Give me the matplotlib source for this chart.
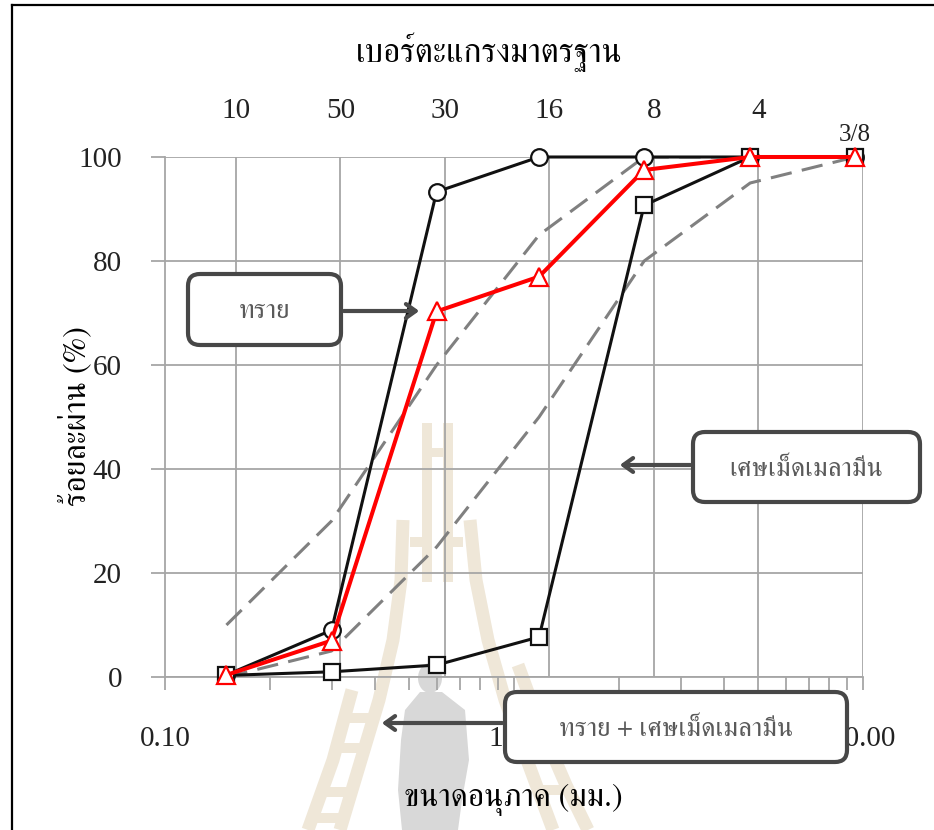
import numpy as np
import matplotlib
matplotlib.use("Agg")
import matplotlib.pyplot as plt
from matplotlib.patches import FancyBboxPatch, FancyArrowPatch, Polygon, Ellipse
from matplotlib.lines import Line2D
from matplotlib.transforms import Affine2D

# sieve sizes (mm) and percent passing
sieve_mm = [0.15, 0.3, 0.6, 1.18, 2.36, 4.75, 9.5]
sieve_no = ["10", "50", "30", "16", "8", "4", "3/8"]
sand = [0.4, 9.0, 93.3, 100, 100, 100, 100]
melamine = [0.3, 1.0, 2.3, 7.7, 90.7, 100, 100]
mixed = [0.4, 7.0, 70.3, 77.0, 97.5, 100, 100]
upper_limit = [10, 30, 60, 85, 100, 100, 100]
lower_limit = [0, 5, 25, 50, 80, 95, 100]

W, H = 934, 830
fig = plt.figure(figsize=(W / 100, H / 100), dpi=100)
# image-pixel coordinates, origin top-left
pix = Affine2D().scale(1 / W, -1 / H).translate(0, 1) + fig.transFigure

serif = ["Liberation Serif", "FreeSerif", "DejaVu Sans"]
thai = ["FreeSerif", "Liberation Serif", "DejaVu Sans"]


def rail(pts, width):
    # thick polyline turned into a polygon
    pts = np.asarray(pts, float)
    left, right = [], []
    for i in range(len(pts)):
        a = pts[max(i - 1, 0)]
        b = pts[min(i + 1, len(pts) - 1)]
        d = b - a
        n = np.array([-d[1], d[0]]) / np.hypot(*d) * width / 2
        left.append(pts[i] + n)
        right.append(pts[i] - n)
    return np.vstack([left, right[::-1]])


# faint logo in the background
beige = "#efe7d8"
wm = [
    [(422, 423), (432, 423), (432, 582), (422, 582)],
    [(443, 423), (453, 423), (453, 582), (443, 582)],
    [(432, 448), (443, 448), (443, 457), (432, 457)],
    [(410, 537), (422, 537), (422, 547), (410, 547)],
    [(453, 537), (463, 537), (463, 547), (453, 547)],
    rail([(403, 520), (401, 580), (393, 640), (379, 700), (361, 760), (340, 830)], 13),
    rail([(470, 520), (476, 580), (488, 640), (505, 700), (527, 760), (553, 830)], 13),
    rail([(352, 690), (333, 760), (308, 830)], 13),
    rail([(518, 665), (540, 725), (566, 785), (588, 830)], 13),
]
for y in (718, 748, 792, 818):
    xi = np.interp(y, [700, 760, 830], [379, 361, 340])
    xo = np.interp(y, [690, 760, 830], [352, 333, 308])
    wm.append([(xo, y - 5), (xi, y - 5), (xi, y + 5), (xo, y + 5)])
for y in (700, 742, 790):
    xi = np.interp(y, [700, 760, 830], [505, 527, 553])
    xo = np.interp(y, [665, 725, 785, 830], [518, 540, 566, 588])
    wm.append([(xi, y - 5), (xo, y - 5), (xo, y + 5), (xi, y + 5)])
for p in wm:
    fig.add_artist(Polygon(p, closed=True, transform=pix, fc=beige, ec="none", zorder=-2))
grey_wm = "#d8d8d8"
fig.add_artist(Ellipse((430, 678), 24, 30, transform=pix, fc=grey_wm, ec="none", zorder=-2))
fig.add_artist(Polygon([(420, 692), (442, 692), (465, 710), (469, 760), (462, 800),
                        (458, 830), (402, 830), (398, 790), (401, 740), (405, 710)],
                       closed=True, transform=pix, fc=grey_wm, ec="none", zorder=-2))

# page frame
fig.add_artist(Line2D([12, 934], [5, 5], transform=pix, color="black", lw=1.6))
fig.add_artist(Line2D([12, 12], [5, 830], transform=pix, color="black", lw=1.6))

ax = fig.add_axes([165 / W, 1 - 677 / H, 698 / W, 520 / H])
ax.set_facecolor("none")
grid_c = "#a6a6a6"

ax.plot(sieve_mm, upper_limit, color="#808080", lw=2.2, ls=(0, (7, 3.4)), zorder=2)
ax.plot(sieve_mm, lower_limit, color="#808080", lw=2.2, ls=(0, (7, 3.4)), zorder=2)
ax.plot(sieve_mm, sand, color="#111111", lw=2.2, marker="o", ms=12,
        mfc="white", mec="#111111", mew=1.6, zorder=3, clip_on=False)
ax.plot(sieve_mm, melamine, color="#111111", lw=2.2, marker="s", ms=12,
        mfc="white", mec="#111111", mew=1.6, zorder=4, clip_on=False)
ax.plot(sieve_mm, mixed, color="red", lw=2.9, marker="^", ms=13,
        mfc="white", mec="red", mew=1.6, zorder=5, clip_on=False)

ax.set_xscale("log")
ax.set_xlim(0.1, 10)
ax.set_ylim(0, 100)
ax.set_xticks([0.1, 1, 10])
ax.set_xticklabels(["0.10", "1.00", "10.00"])
ax.set_yticks(range(0, 101, 20))
ax.yaxis.grid(True, color=grid_c, lw=1.3)
for s in ["top", "right"]:
    ax.spines[s].set_visible(False)
for s in ["left", "bottom"]:
    ax.spines[s].set_color(grid_c)
    ax.spines[s].set_linewidth(1.3)
ax.tick_params(axis="x", which="both", direction="out", length=9, width=1.3,
               color=grid_c, pad=26, labelsize=21, labelcolor="#222222")
ax.tick_params(axis="y", direction="out", length=10, width=1.3,
               color=grid_c, pad=21, labelsize=21, labelcolor="#222222")
for lab in ax.get_xticklabels() + ax.get_yticklabels():
    lab.set_family(serif)

# sieve number axis along the top
top = ax.twiny()
top.set_xlim(-0.679, 6)
top.set_xticks(range(len(sieve_no)))
top.set_xticklabels(sieve_no[:-1] + [""])
top.tick_params(axis="x", length=0, pad=24, labelsize=21, labelcolor="#222222")
for lab in top.get_xticklabels():
    lab.set_family(serif)
top.xaxis.grid(True, color=grid_c, lw=1.3)
for s in top.spines.values():
    s.set_visible(False)
top.set_zorder(-1)
top.annotate(sieve_no[-1], (6, 1), xycoords=top.get_xaxis_transform(),
             xytext=(-6, 8), textcoords="offset points", fontsize=18,
             family=serif, ha="center", va="bottom", color="#222222")

# titles
fig.text(489, 52, "เบอร์ตะแกรงมาตรฐาน", transform=pix, ha="center", va="center",
         fontsize=24, family=thai)
fig.text(513, 800, "ขนาดอนุภาค (มม.)", transform=pix, ha="center", va="center",
         fontsize=23, family=thai)
fig.text(75, 416, "ร้อยละผ่าน (%)", transform=pix, ha="center", va="center",
         fontsize=23, family=thai, rotation=90)

# callout boxes with arrows
callouts = [
    ("ทราย", (188, 274, 153, 71), (341, 311), (422, 311)),
    ("เศษเม็ดเมลามีน", (693, 432, 227, 70), (693, 465), (617, 465)),
    ("ทราย + เศษเม็ดเมลามีน", (505, 692, 342, 70), (505, 723), (379, 723)),
]
for label, (x0, y0, w, h), start, tip in callouts:
    box = FancyBboxPatch((x0, y0), w, h, boxstyle="round,pad=0,rounding_size=12",
                         transform=pix, fc="white", ec="#474747", lw=3, zorder=6)
    fig.add_artist(box)
    fig.text(x0 + w / 2, y0 + h / 2 + 2, label, transform=pix, ha="center",
             va="center", fontsize=19.5, family=thai, color="#5a5a5a", zorder=7)
    arr = FancyArrowPatch(start, tip, transform=pix,
                          arrowstyle="->,head_length=7,head_width=5",
                          color="#4a4a4a", lw=3, zorder=6)
    fig.add_artist(arr)

fig.savefig("out.png", dpi=100)
